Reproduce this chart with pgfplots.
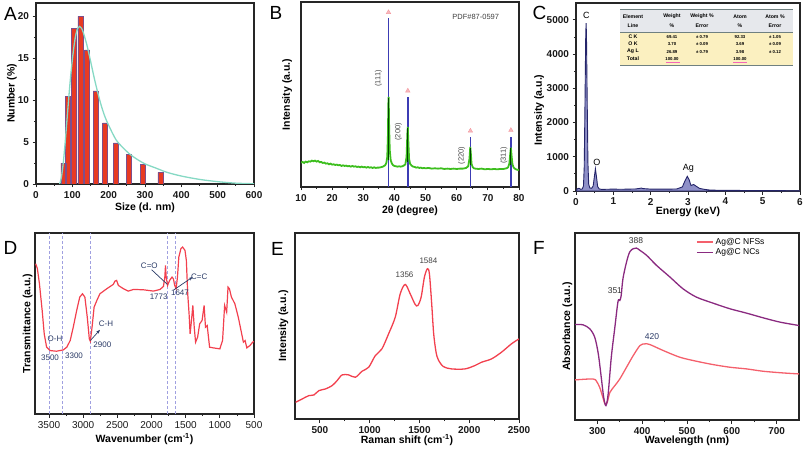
\documentclass[border=0pt]{standalone}
\usepackage{fontspec}
\setmainfont{Liberation Sans}
\usepackage{pgfplots}
\pgfplotsset{compat=1.18}
\usetikzlibrary{arrows.meta}
\definecolor{barred}{HTML}{E83A22}
\definecolor{baredge}{HTML}{7C4F8C}
\definecolor{fitmint}{HTML}{86D9C4}
\definecolor{xrdgreen}{HTML}{3DBE1E}
\definecolor{stickblue}{HTML}{3C3CB4}
\definecolor{tripink}{HTML}{F49AA0}
\definecolor{edsfill}{HTML}{8F90C8}
\definecolor{edsline}{HTML}{25256A}
\definecolor{specred}{HTML}{F2404E}
\definecolor{nfspink}{HTML}{F4606C}
\definecolor{ncpurple}{HTML}{8A2A80}
\definecolor{annot}{HTML}{2A3A66}
\definecolor{vline}{HTML}{A0A0E0}
\definecolor{tabhead}{HTML}{E6E8EC}
\definecolor{tabrow}{HTML}{FBF0C0}
\definecolor{tabline}{HTML}{6F8080}

\pgfplotsset{
  panel/.style={
    scale only axis, anchor=south west,
    axis line style={line width=1.1pt,black!85},
    tick style={line width=0.8pt,black!85},
    tick align=outside, xtick pos=bottom, ytick pos=left,
    major tick length=3.5pt, minor tick length=2pt,
    minor tick num=1,
    scaled ticks=false,
    /pgf/number format/assume math mode=true,
    /pgf/number format/1000 sep={},
    ticklabel style={font=\fontsize{10}{12}\selectfont\bfseries, text=black!90},
    label style={font=\fontsize{10.5}{12}\selectfont\bfseries},
  },
  xlab/.style={xlabel style={at={(axis description cs:0.5,0)},anchor=center,yshift=-#1}},
  ylab/.style 2 args={ylabel style={at={(axis description cs:#1,#2)},anchor=center}},
}
\newcommand{\letterfont}{\fontsize{19}{22}\selectfont}
\newcommand{\tabh}{\fontsize{5.2}{5.5}\selectfont\bfseries}
\newcommand{\tabv}{\fontsize{4.3}{4.5}\selectfont\bfseries}

\begin{document}
\begin{tikzpicture}
\useasboundingbox (0,0) rectangle (805pt,-454pt);

% ---------------- A: size distribution
\begin{axis}[panel, at={(36pt,-184pt)}, width=218pt, height=181pt,
  xmin=0, xmax=600, ymin=0, ymax=21.6,
  xtick={0,100,...,600}, ytick={0,5,...,20},
  xlabel={Size (d. nm)}, ylabel={Number (\%)},
  xlab=24pt, ylab={-0.11}{0.5}]
\addplot[ybar, bar width=5pt, fill=barred, draw=baredge, line width=0.5pt]
  coordinates {(75,2.5) (88,10.5) (105,18.6) (122,20.0) (141,16.0) (164,11.1)
               (190,7.3) (220,4.9) (255,3.5) (295,2.3) (342,1.4)};
\addplot[fitmint, line width=1.3pt, smooth]
  coordinates {(65,0) (70,0.8) (75,2.5) (80,4.8) (85,7.5) (90,10.2) (95,12.7)
               (100,14.8) (105,16.6) (110,17.9) (115,18.6) (120,18.8) (125,18.6)
               (130,18.1) (140,16.6) (150,14.7) (160,12.7) (170,10.9) (180,9.3)
               (190,8.0) (200,7.0) (220,5.3) (240,4.3) (260,3.5) (280,2.9)
               (300,2.4) (330,1.9) (360,1.4) (400,0.95) (450,0.55) (500,0.28)
               (550,0.1) (600,0.03)};
\end{axis}

% ---------------- B: XRD
\begin{axis}[panel, at={(301pt,-187pt)}, width=218pt, height=185pt,
  xmin=10, xmax=80, ymin=0, ymax=554,
  xtick={10,20,...,80}, ytick=\empty,
  xlabel={2θ (degree)}, ylabel={Intensity (a.u.)},
  xlab=24pt, ylab={-0.064}{0.5}]
\addplot[stickblue, line width=1.4pt] coordinates {(38.1,0) (38.1,505)};
\addplot[stickblue, line width=1.4pt] coordinates {(44.3,0) (44.3,270)};
\addplot[stickblue, line width=1.4pt] coordinates {(64.4,0) (64.4,150)};
\addplot[stickblue, line width=1.4pt] coordinates {(77.4,0) (77.4,150)};
\addplot[xrdgreen, line width=1.8pt] coordinates {
 (10,73) (10.5,75) (11,72) (11.5,76) (12,74) (12.5,77) (13,76) (13.5,79) (14,77)
 (14.5,79) (15,76) (15.5,78) (16,74) (16.5,75) (17,72) (17.5,73) (18,70) (18.5,71)
 (19,68) (19.5,70) (20,67) (20.5,68) (21,66) (21.5,67) (22,65) (22.5,66) (23,63)
 (23.5,65) (24,63) (24.5,64) (25,62) (25.5,63) (26,61) (26.5,63) (27,61) (27.5,62)
 (28,60) (28.5,61) (29,59) (29.5,61) (30,59) (30.5,60) (31,58) (31.5,60) (32,58)
 (32.5,59) (33,57) (33.5,59) (34,57) (34.5,58) (35,58) (35.5,59) (36,60) (36.5,62)
 (37,65) (37.4,72) (37.7,90) (37.9,150) (38.05,250) (38.15,270) (38.3,180)
 (38.5,110) (38.8,80) (39.2,70) (39.6,65) (40,63) (40.5,62) (41,61) (41.5,62)
 (42,61) (42.5,62) (43,64) (43.5,68) (43.9,90) (44.15,160) (44.3,180) (44.45,140)
 (44.7,85) (45,70) (45.5,64) (46,61) (46.5,60) (47,58) (47.5,59) (48,57) (48.5,58)
 (49,56) (49.5,57) (50,56) (51,57) (52,55) (53,56) (54,55) (55,56) (56,54) (57,55)
 (58,54) (59,55) (60,54) (61,55) (62,55) (63,57) (63.7,62) (64.1,85) (64.35,120)
 (64.5,105) (64.75,70) (65.1,60) (65.5,56) (66,55) (67,54) (68,55) (69,53) (70,54)
 (71,53) (72,54) (73,53) (74,54) (75,54) (75.5,55) (76,56) (76.5,59) (76.9,70)
 (77.2,100) (77.4,118) (77.6,95) (77.9,68) (78.3,58) (78.8,54) (79.3,52) (79.7,51)
 (80,52)};
\addplot[black!75!green, line width=1pt] coordinates {(38.1,80) (38.1,268)};
\addplot[black!75!green, line width=1pt] coordinates {(44.3,75) (44.3,178)};
\addplot[black!75!green, line width=1pt] coordinates {(64.4,65) (64.4,118)};
\addplot[black!75!green, line width=1pt] coordinates {(77.4,65) (77.4,116)};
\addplot[only marks, mark=triangle*, mark size=2.6pt, color=tripink, fill=tripink!70]
  coordinates {(38.1,523) (44.3,288) (64.4,168) (77.4,170)};
\node[rotate=90, font=\fontsize{7.5}{9}\selectfont, text=black!70] at (axis cs:34.9,325) {(111)};
\node[rotate=90, font=\fontsize{7.5}{9}\selectfont, text=black!70] at (axis cs:41.3,165) {(200)};
\node[rotate=90, font=\fontsize{7.5}{9}\selectfont, text=black!70] at (axis cs:61.6,95) {(220)};
\node[rotate=90, font=\fontsize{7.5}{9}\selectfont, text=black!70] at (axis cs:75.2,95) {(311)};
\node[font=\fontsize{7.5}{9}\selectfont, text=black!75] at (axis cs:66.1,508) {PDF\#87-0597};
\end{axis}

% ---------------- C: EDS
\begin{axis}[panel, at={(576pt,-191pt)}, width=224pt, height=188pt,
  xmin=0, xmax=6, ymin=0, ymax=5490,
  xtick={0,1,...,6}, ytick={0,1000,...,5000},
  xlabel={Energy (keV)}, ylabel={Intensity (a.u.)},
  xlab=21pt, ylab={-0.165}{0.43}]
\addplot[fill=edsfill, draw=edsline, line width=0.9pt] coordinates {
 (0,0) (0.03,60) (0.08,80) (0.12,50) (0.17,60) (0.2,150) (0.22,700) (0.24,2500)
 (0.26,4500) (0.27,4900) (0.28,4600) (0.3,2600) (0.32,800) (0.34,200) (0.37,90)
 (0.42,80) (0.46,150) (0.49,400) (0.52,650) (0.55,400) (0.58,130) (0.62,60)
 (0.7,45) (0.8,50) (1,55) (1.2,50) (1.4,55) (1.6,60) (1.7,75) (1.75,85) (1.8,70)
 (2,55) (2.2,55) (2.5,55) (2.7,60) (2.85,120) (2.92,300) (2.98,430) (3.03,330)
 (3.08,160) (3.15,190) (3.22,140) (3.3,80) (3.4,55) (3.5,40) (3.6,25) (4,20)
 (4.5,15) (5,10) (6,8)} \closedcycle;
\node[font=\fontsize{9}{10}\selectfont] at (axis cs:0.276,5130) {C};
\node[font=\fontsize{9}{10}\selectfont] at (axis cs:0.56,840) {O};
\node[font=\fontsize{9}{10}\selectfont] at (axis cs:3.01,670) {Ag};
\end{axis}

% ---------------- D: FTIR
\begin{axis}[panel, at={(35pt,-414pt)}, width=219pt, height=181pt,
  x dir=reverse, xmin=500, xmax=3705, ymin=0, ymax=542,
  xtick={500,1000,...,3500}, ytick=\empty,
  ticklabel style={font=\fontsize{10}{12}\selectfont},
  xlabel={Wavenumber (cm\textsuperscript{-1})}, ylabel={Transmittance (a.u.)},
  xlab=25pt, ylab={-0.033}{0.5}]
\addplot[vline, densely dashed, line width=0.7pt] coordinates {(3500,0) (3500,542)};
\addplot[vline, densely dashed, line width=0.7pt] coordinates {(3300,0) (3300,542)};
\addplot[vline, densely dashed, line width=0.7pt] coordinates {(2900,0) (2900,542)};
\addplot[vline, densely dashed, line width=0.7pt] coordinates {(1773,0) (1773,542)};
\addplot[vline, densely dashed, line width=0.7pt] coordinates {(1647,0) (1647,542)};
\addplot[specred, line width=1.2pt] coordinates {
 (3695,450) (3670,435) (3640,390) (3600,310) (3570,240) (3535,200) (3485,190)
 (3390,188) (3290,192) (3240,200) (3190,220) (3145,260) (3095,310) (3050,350)
 (3010,360) (2975,350) (2940,290) (2910,225) (2895,218) (2870,260) (2840,320)
 (2800,340) (2755,360) (2655,375) (2560,388) (2535,398) (2510,400) (2485,385)
 (2410,375) (2340,368) (2265,373) (2120,372) (1970,368) (1875,373) (1825,382)
 (1805,410) (1795,445) (1785,410) (1765,385) (1735,400) (1700,410) (1680,405)
 (1660,385) (1640,375) (1620,410) (1600,470) (1570,495) (1545,500) (1510,490)
 (1490,460) (1470,360) (1450,300) (1435,240) (1415,280) (1395,325) (1375,260)
 (1355,215) (1325,230) (1295,270) (1260,280) (1230,325) (1210,260) (1185,265)
 (1150,200) (1095,198) (1000,195) (960,220) (930,325) (900,305) (880,380)
 (860,375) (830,350) (780,330) (730,290) (680,240) (655,215) (630,220) (605,198)
 (560,205) (520,215) (500,217)};
\draw[annot, line width=0.7pt, -{Stealth[length=4pt]}] (axis cs:2895,220) -- (axis cs:2754,252);
\draw[annot, line width=0.7pt] (axis cs:1998,432) -- (axis cs:1768,388);
\draw[annot, line width=0.7pt, -{Stealth[length=4pt]}] (axis cs:1671,372) -- (axis cs:1398,410);
\node[font=\fontsize{8}{9}\selectfont, text=annot] at (axis cs:3412,225) {O-H};
\node[font=\fontsize{8}{9}\selectfont, text=annot] at (axis cs:3485,167) {3500};
\node[font=\fontsize{8}{9}\selectfont, text=annot] at (axis cs:3134,175) {3300};
\node[font=\fontsize{8}{9}\selectfont, text=annot] at (axis cs:2720,208) {2900};
\node[font=\fontsize{8}{9}\selectfont, text=annot] at (axis cs:2666,270) {C-H};
\node[font=\fontsize{8}{9}\selectfont, text=annot] at (axis cs:2032,443) {C=O};
\node[font=\fontsize{8}{9}\selectfont, text=annot] at (axis cs:1895,350) {1773};
\node[font=\fontsize{8}{9}\selectfont, text=annot] at (axis cs:1583,362) {1647};
\node[font=\fontsize{8}{9}\selectfont, text=annot] at (axis cs:1300,412) {C=C};
\end{axis}

% ---------------- E: Raman
\begin{axis}[panel, at={(295pt,-419pt)}, width=224pt, height=186pt,
  xmin=250, xmax=2500, ymin=0, ymax=557,
  xtick={500,1000,...,2500}, ytick=\empty,
  xlabel={Raman shift (cm\textsuperscript{-1})}, ylabel={Intensity (a.u.)},
  xlab=21pt, ylab={-0.052}{0.5}]
\addplot[specred, line width=1.3pt, smooth] coordinates {
 (256,50) (322,60) (389,70) (440,72) (490,85) (556,90) (623,100) (673,115)
 (723,132) (790,132) (856,125) (923,143) (990,155) (1057,190) (1123,210)
 (1190,255) (1257,305) (1307,375) (1357,403) (1407,375) (1457,343) (1484,340)
 (1517,365) (1550,425) (1580,450) (1600,435) (1623,345) (1643,255) (1667,200)
 (1690,177) (1740,157) (1823,150) (1957,150) (2057,160) (2124,170) (2224,180)
 (2324,200) (2424,225) (2500,240)};
\node[font=\fontsize{8}{9}\selectfont, text=black!75] at (axis cs:1350,432) {1356};
\node[font=\fontsize{8}{9}\selectfont, text=black!75] at (axis cs:1590,475) {1584};
\end{axis}

% ---------------- F: UV-vis
\begin{axis}[panel, at={(575pt,-420pt)}, width=224pt, height=187pt,
  xmin=250, xmax=750, ymin=0, ymax=560,
  xtick={300,400,...,700}, ytick=\empty,
  xlabel={Wavelength (nm)}, ylabel={Absorbance (a.u.)},
  xlab=21pt, ylab={-0.034}{0.5},
  legend style={at={(axis description cs:0.54,0.985)}, anchor=north west,
    draw=none, fill=none, font=\fontsize{8.5}{10}\selectfont, row sep=-1pt,
    inner sep=0pt},
  legend cell align=left,
  legend image code/.code={\draw[line width=1.5pt] (0pt,0pt) -- (16pt,0pt);}]
\addplot[nfspink, line width=1.3pt, smooth] coordinates {
 (249,120) (290,123) (298,116) (305,98) (311,73) (317,48) (322,53) (328,83)
 (339,103) (350,123) (365,158) (380,193) (395,223) (406,228) (417,226) (447,208)
 (484,188) (521,176) (558,166) (596,158) (633,153) (670,146) (714,141) (750,138)};
\addlegendentry{Ag@C NFSs}
\addplot[ncpurple, line width=1.3pt, smooth] coordinates {
 (249,286) (268,285) (283,273) (294,248) (302,198) (309,123) (314,68) (319,43)
 (324,78) (331,188) (339,278) (346,355) (350,358) (353,372) (357,423) (365,473)
 (372,503) (380,513) (387,515) (395,508) (410,493) (432,463) (462,428) (491,393)
 (521,368) (558,350) (596,333) (633,320) (670,306) (708,293) (750,283)};
\addlegendentry{Ag@C NCs}
\node[font=\fontsize{8.5}{10}\selectfont, text=black!80] at (axis cs:386,536) {388};
\node[font=\fontsize{8.5}{10}\selectfont, text=black!80] at (axis cs:339,388) {351};
\node[font=\fontsize{8.5}{10}\selectfont, text=annot] at (axis cs:422,250) {420};
\end{axis}

% ---------------- inset table in C
\fill[tabhead] (620pt,-10pt) rectangle (793pt,-32pt);
\fill[tabrow] (620pt,-32pt) rectangle (793pt,-66pt);
\draw[tabline, line width=1pt] (620pt,-10pt) -- (793pt,-10pt);
\draw[tabline, line width=0.6pt] (620pt,-32pt) -- (793pt,-32pt);
\draw[tabline, line width=1pt] (620pt,-66pt) -- (793pt,-66pt);
\draw[magenta!60, line width=0.4pt] (666pt,-62pt) -- (680pt,-62pt);
\draw[magenta!60, line width=0.4pt] (733pt,-62pt) -- (747pt,-62pt);
\foreach \cx/\la/\lb in {633/Element/Line, 672/Weight/\%, 702/Weight \%/Error, 740/Atom/\%, 775/Atom \%/Error}{
  \node[font=\tabh] at (\cx pt,-16.5pt) {\la};
  \node[font=\tabh] at (\cx pt,-25.5pt) {\lb};
}
\foreach \ry/\a/\b/\c/\d/\e in {36.7/C K/69.41/± 0.79/92.33/± 1.05,
                               44.2/O K/3.70/± 0.09/3.69/± 0.09,
                               51.6/Ag L/26.89/± 0.79/3.98/± 0.12,
                               59/Total/100.00//100.00/}{
  \node[font=\tabh] at (633pt,-\ry pt) {\a};
  \node[font=\tabv] at (672pt,-\ry pt) {\b};
  \node[font=\tabv] at (702pt,-\ry pt) {\c};
  \node[font=\tabv] at (740pt,-\ry pt) {\d};
  \node[font=\tabv] at (775pt,-\ry pt) {\e};
}

% ---------------- panel letters
\node[font=\letterfont] at (10.5pt,-14pt) {A};
\node[font=\letterfont] at (276pt,-13pt) {B};
\node[font=\letterfont] at (539.5pt,-12.5pt) {C};
\node[font=\letterfont] at (10.5pt,-248pt) {D};
\node[font=\letterfont] at (277.5pt,-248.5pt) {E};
\node[font=\letterfont] at (539pt,-248pt) {F};
\end{tikzpicture}
\end{document}
